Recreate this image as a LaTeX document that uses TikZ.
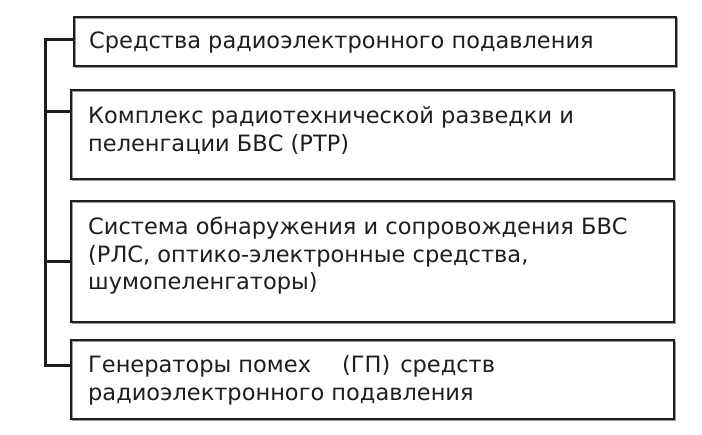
\documentclass[tikz,border=0pt]{standalone}
\usepackage{fontspec}
\setmainfont{DejaVu Sans}
\usetikzlibrary{calc}
\definecolor{ink}{HTML}{1E1E1E}
\definecolor{shade}{HTML}{9A9A9A}
\tikzset{
  box/.style={draw=ink, line width=1.8pt, rectangle, anchor=north west, inner sep=0pt,
    preaction={draw=shade, line width=1.4pt, transform canvas={shift={(1.4pt,-1.4pt)}}}},
  txt/.style={anchor=base west, inner sep=0pt, align=left, text=ink,
    font=\fontsize{22.5}{27.5}\selectfont},
  conn/.style={draw=ink, line width=3pt, line cap=rect}
}
\begin{document}
\begin{tikzpicture}[x=1pt,y=-1pt]
\useasboundingbox (0,0) rectangle (702,435);
\node[box, minimum width=602pt, minimum height=49pt] (b1) at (73,16) {};
\node[box, minimum width=603pt, minimum height=89pt] (b2) at (70,89) {};
\node[box, minimum width=603pt, minimum height=121pt] (b3) at (70,200) {};
\node[box, minimum width=603pt, minimum height=79pt] (b4) at (70,339) {};
% base anchor of a multi-line node is the baseline of its last line
\node[txt] (t1) at (89,49) {Средства радиоэлектронного подавления};
\node[txt] (t2) at (88,151.5) {Комплекс радиотехнической разведки и\\пеленгации БВС (РТР)};
\node[txt] (t3) at (88,290) {Система обнаружения и сопровождения БВС\\(РЛС, оптико-электронные средства,\\шумопеленгаторы)};
\node[txt] (t4) at (88,400.5) {Генераторы помех\hspace{31pt}(ГП)\hspace{10pt}средств\\радиоэлектронного подавления};
\coordinate (s1) at (45,40);
\coordinate (s2) at (45,112);
\coordinate (s3) at (45,262);
\coordinate (s4) at (45,366);
\draw[conn] (s1) -- (s4);
\draw[conn] (s1) -- (s1 -| b1.west);
\draw[conn] (s2) -- (s2 -| b2.west);
\draw[conn] (s3) -- (s3 -| b3.west);
\draw[conn] (s4) -- (s4 -| b4.west);
\end{tikzpicture}
\end{document}
